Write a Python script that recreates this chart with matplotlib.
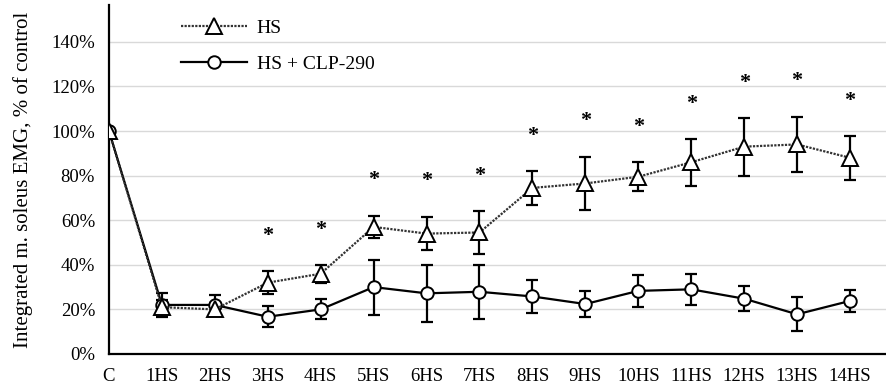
"""
Integrated m. soleus EMG during hindlimb suspension, HS vs HS + CLP-290.
"""
import matplotlib
matplotlib.use("Agg")
import matplotlib.pyplot as plt
from matplotlib.ticker import PercentFormatter

# Data (% of control)
days = ["C", "1HS", "2HS", "3HS", "4HS", "5HS", "6HS", "7HS",
        "8HS", "9HS", "10HS", "11HS", "12HS", "13HS", "14HS"]
hs_mean = [100, 21, 20, 32, 36, 57, 54, 54.5, 74.5, 76.5, 79.5, 86, 93, 94, 88]
hs_err = [0, 3, 3, 5, 4, 5, 7.5, 9.7, 7.5, 12, 6.5, 10.5, 13, 12.5, 10]
clp_mean = [100, 22, 22, 16.7, 20, 30, 27.2, 27.9, 25.8, 22.4, 28.3, 29, 24.8, 17.8, 23.8]
clp_err = [0, 5.5, 4.5, 4.6, 4.5, 12.3, 12.8, 12, 7.5, 5.8, 7.3, 7, 5.5, 7.6, 4.8]

# significance markers (HS vs HS + CLP-290)
star_idx = [3, 4, 5, 6, 7, 8, 9, 10, 11, 12, 13, 14]
star_y = [55, 57.5, 80, 79.5, 81.7, 99.7, 106.4, 103.7, 114.2, 123.3, 124.3, 115.4]

plt.rcParams.update({
    "font.family": ["Liberation Serif", "DejaVu Serif"],
    "font.size": 13.5,
})

fig = plt.figure(figsize=(8.86, 3.92), dpi=100)
ax = fig.add_axes([0.123, 0.097, 0.877, 0.89])

x = list(range(len(days)))
scale = lambda v: [a / 100 for a in v]

ax.errorbar(x, scale(hs_mean), yerr=scale(hs_err), fmt="none", ecolor="black",
            elinewidth=1.6, capsize=4, capthick=1.6, zorder=3)
ax.errorbar(x, scale(clp_mean), yerr=scale(clp_err), fmt="none", ecolor="black",
            elinewidth=1.6, capsize=4, capthick=1.6, zorder=3)

ax.plot(x, scale(clp_mean), color="black", linewidth=1.6, marker="o",
        markersize=9, markerfacecolor="white", markeredgecolor="black",
        markeredgewidth=1.4, label="HS + CLP-290", zorder=4)
ax.plot(x, scale(hs_mean), color="#333333", linewidth=1.6, linestyle=(0, (1, 0.6)),
        marker="^", markersize=12, markerfacecolor="white", markeredgecolor="black",
        markeredgewidth=1.4, label="HS", zorder=5)

for i, y in zip(star_idx, star_y):
    ax.annotate("*", (i, y / 100), xytext=(0, -3), textcoords="offset points",
                ha="center", va="center", fontsize=16, fontweight="bold")

ax.set_xlim(0, 14.68)
ax.set_ylim(0, 1.565)
ax.set_yticks([0, 0.2, 0.4, 0.6, 0.8, 1.0, 1.2, 1.4])
ax.yaxis.set_major_formatter(PercentFormatter(1.0, decimals=0))
ax.set_xticks(x)
ax.set_xticklabels(days)
ax.tick_params(axis="both", length=0, labelsize=13.5)
ax.tick_params(axis="y", pad=10)
ax.tick_params(axis="x", pad=10)

ax.grid(True, axis="y", color="#d9d9d9", linewidth=1.0)
ax.set_axisbelow(True)
ax.spines["top"].set_visible(False)
ax.spines["right"].set_visible(False)
ax.spines["left"].set_linewidth(1.6)
ax.spines["bottom"].set_linewidth(1.6)

ax.set_ylabel("Integrated m. soleus EMG, % of control", fontsize=15, labelpad=13)

handles, labels = ax.get_legend_handles_labels()
ax.legend(handles[::-1], labels[::-1], loc="upper left", bbox_to_anchor=(0.07, 1.01),
          frameon=False, handlelength=3.4, handletextpad=0.5, fontsize=14,
          labelspacing=0.95)

fig.savefig("out.png", dpi=100, facecolor="white")
